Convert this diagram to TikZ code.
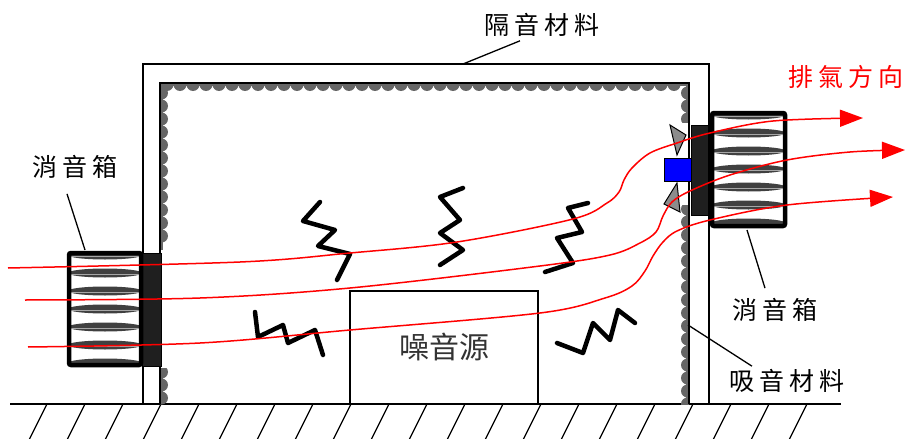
\documentclass[tikz,border=0pt]{standalone}
\usepackage{fontspec}
\newfontfamily\cjk[LetterSpace=20]{Noto Sans CJK TC}
\newfontfamily\cjkplano{Noto Sans CJK TC}
\usetikzlibrary{arrows.meta}

\tikzset{
  pared/.style={line width=1.6pt},
  absorbente/.style={fill=black!60},
  panel/.style={fill=black!88, draw=black, line width=1pt},
  lente/.style={fill=black!75},
  marco/.style={line width=4.5pt, rounded corners=2pt},
  zigzag/.style={line width=4.5pt, line cap=round, line join=round},
  flujo/.style={red, line width=1.5pt, -{Triangle[length=23pt,width=17pt]}},
  guia/.style={line width=1.3pt},
  etiqueta/.style={font=\cjk\fontsize{25}{30}\selectfont, inner sep=1pt},
}

\begin{document}
\begin{tikzpicture}[x=1pt, y=-1pt]
\useasboundingbox (0,0) rectangle (906,439);

% El suelo con su rayado
\draw[pared] (10,404) -- (841,404);
\foreach \x in {47,85,...,807}
  \draw[guia] (\x,404) -- ++(-18,36);

% Material absorbente por dentro, recortado a la sala
\begin{scope}
  \clip (160,83) rectangle (689,404);
  \fill[absorbente] (160,83) rectangle (689,86);
  \foreach \x in {167,180,...,686}
    \fill[absorbente] (\x,84.5) circle (6.5pt);
  \fill[absorbente] (160,83) rectangle (163,250);
  \fill[absorbente] (160,368) rectangle (163,404);
  \foreach \y in {93,106,...,245,372,385,398}
    \fill[absorbente] (161.5,\y) circle (6.5pt);
  \fill[absorbente] (686,83) rectangle (689,122);
  \fill[absorbente] (686,205) rectangle (689,404);
  \foreach \y in {93,106,119,209,222,...,404}
    \fill[absorbente] (687.5,\y) circle (6.5pt);
  % huecos junto al silenciador y al ventilador
  \fill[white] (155,250.5) rectangle (175,367.5);
  \fill[white] (675,122.5) rectangle (689.5,204.5);
\end{scope}

% Paredes y techo (doble linea)
\draw[pared] (143,404) -- (143,64) -- (709,64) -- (709,404);
\draw[pared] (160,404) -- (160,83) -- (689,83) -- (689,404);

% Fuente de ruido
\draw[guia] (350,404) -- (350,291) -- (538,291) -- (538,404);
\node[font=\cjkplano\fontsize{30}{34}\selectfont, text=black!80] (lblFuente) at (444,347) {噪音源};

% Silenciador izquierdo
\draw[panel] (142,253) rectangle (161,366);
\fill[white] (69,253) rectangle (141,365);
\begin{scope}
  \clip (69,253) rectangle (141,365);
  \foreach \y in {255,273,...,363} {
    \fill[lente] (105,\y) ellipse [x radius=37pt, y radius=4.5pt];
    \draw[black!35, line width=0.8pt] (69,\y+1) -- (141,\y+1);
  }
\end{scope}
\draw[marco] (69,253) rectangle (141,365);

% Silenciador derecho
\draw[panel] (691,125) rectangle (708,215);
\fill[white] (712,113) rectangle (785,226);
\begin{scope}
  \clip (712,113) rectangle (785,226);
  \foreach \y in {115,133,...,223} {
    \fill[lente] (748.5,\y) ellipse [x radius=37pt, y radius=4.5pt];
    \draw[black!35, line width=0.8pt] (712,\y+1) -- (785,\y+1);
  }
\end{scope}
\draw[marco] (712,113) rectangle (785,226);

% Ventilador
\draw[line width=1pt, fill=black!45] (670,125) -- (686,135) -- (677,155) -- cycle;
\draw[line width=1pt, fill=black!45] (677,183) -- (664,204) -- (680,212) -- cycle;
\draw[line width=1pt, fill=blue] (664,158) rectangle (691,181);

% Ondas de ruido
\draw[zigzag] (320,202) -- (303,221) -- (335,230) -- (318,246) -- (350,254) -- (337,280);
\draw[zigzag] (463,188) -- (440,197) -- (460,220) -- (440,233) -- (463,250) -- (440,265);
\draw[zigzag] (588,203) -- (568,208) -- (582,232) -- (557,238) -- (573,263) -- (545,272);
\draw[zigzag] (255,312) -- (258,337) -- (283,325) -- (288,343) -- (315,330) -- (323,355);
\draw[zigzag] (557,343) -- (583,353) -- (593,323) -- (610,340) -- (618,310) -- (635,323);

% Corrientes de aire
\draw[flujo] plot[smooth, tension=0.55] coordinates {(8,268) (240,262) (350,253) (457,242)
  (573,219) (607,203) (619,192) (624,180) (632,168) (650,153) (677,143) (710,133) (773,121) (863,118)};
\draw[flujo] plot[smooth, tension=0.55] coordinates {(25,300) (200,298) (350,288) (540,266)
  (610,255) (640,243) (656,232) (663,216) (672,202) (690,191) (730,175) (787,160) (850,152) (905,150)};
\draw[flujo] plot[smooth, tension=0.55] coordinates {(28,347) (200,343) (350,330) (540,313)
  (605,298) (632,286) (645,271) (653,256) (663,242) (677,231) (710,220) (787,205) (893,197)};

% Etiquetas
\node[etiqueta] (lblAislante) at (542,25) {隔音材料};
\node[etiqueta, text=red] (lblEscape) at (846,77) {排氣方向};
\node[etiqueta] (lblSilIzq) at (75,167) {消音箱};
\node[etiqueta] (lblSilDer) at (775,310) {消音箱};
\node[etiqueta] (lblAbsorbente) at (787,381) {吸音材料};

\coordinate (pAislante) at (463,64);
\coordinate (pSilIzq) at (85,250);
\coordinate (pSilDer) at (747,230);
\coordinate (pAbsorbente) at (688,325);

\draw[guia] (lblAislante.south) ++(-22,3) -- (pAislante);
\draw[guia] (lblSilIzq.south) ++(-8,14) -- (pSilIzq);
\draw[guia] (lblSilDer.north) ++(-10,-9) -- (pSilDer);
\draw[guia] (lblAbsorbente.north) ++(-35,-2) -- (pAbsorbente);
\end{tikzpicture}
\end{document}
